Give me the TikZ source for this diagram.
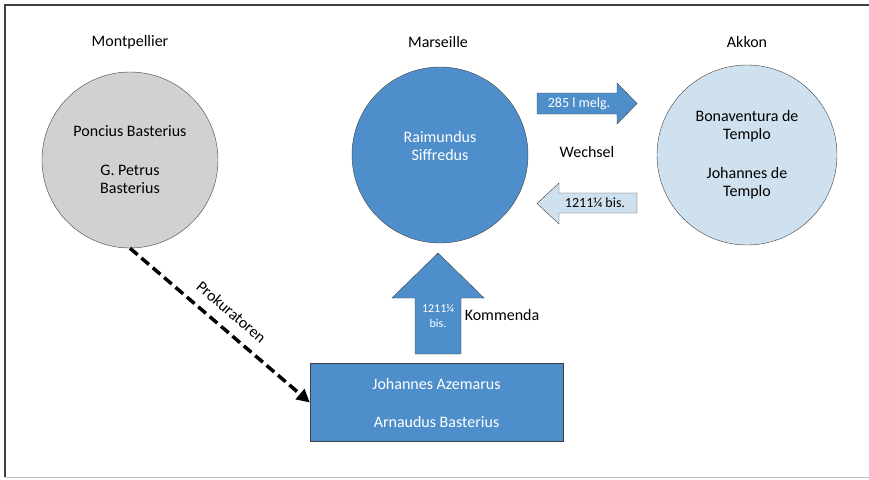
\documentclass[tikz,border=0pt]{standalone}
\usepackage{fontspec}
\setmainfont{Carlito}
\usetikzlibrary{arrows.meta}
\definecolor{boxblue}{HTML}{4E8FCB}
\definecolor{paleblue}{HTML}{CFE1EF}
\definecolor{circgray}{HTML}{D1D1D3}
\definecolor{edgegray}{HTML}{404040}

\begin{document}
\begin{tikzpicture}[x=1pt,y=-1pt]
        \tikzstyle{place}=[font=\fontsize{16}{18}\selectfont]
        \tikzstyle{party}=[draw=edgegray,thin,circle,inner sep=0pt,align=center,font=\fontsize{16}{18}\selectfont]
        \tikzstyle{blockarrow}=[draw=edgegray,thin,line join=miter]
        \tikzstyle{tag}=[font=\fontsize{14}{16}\selectfont,inner sep=1pt]

        \useasboundingbox (0,0) rectangle (869,479);
        \draw[edgegray,line width=1.3pt] (5,477) -- (5,5) -- (869,5);
        \draw[black!25,line width=0.8pt] (5,477) -- (869,477);

        \draw (130,42) node[place] (montpellier) {Montpellier};
        \draw (438,42) node[place] (marseille) {Marseille};
        \draw (747,42) node[place] (akkon) {Akkon};

        \draw (130,160) node[party,fill=circgray,minimum size=176pt] (vm) {Poncius Basterius\\[21pt]G. Petrus\\Basterius};
        \draw (440,155) node[party,fill=boxblue,text=white,minimum size=176pt] (vs) {Raimundus\\Siffredus\\~};
        \draw (747,155) node[party,fill=paleblue,minimum size=180pt] (vb) {Bonaventura de\\Templo\\[21pt]Johannes de\\Templo};
        \draw (436.5,402.5) node[draw=edgegray,thin,fill=boxblue,text=white,minimum width=253pt,minimum height=78pt,align=center,font=\fontsize{16}{18}\selectfont] (va) {Johannes Azemarus\\[20pt]Arnaudus Basterius};

        \draw[blockarrow,fill=boxblue] (537,93) -- (617,93) -- (617,83) -- (637,103.5) -- (617,124) -- (617,114) -- (537,114) -- cycle;
        \draw[blockarrow,fill=paleblue] (637,193) -- (559,193) -- (559,183) -- (537,203.5) -- (559,224) -- (559,213) -- (637,213) -- cycle;
        \draw[blockarrow,fill=boxblue] (415,354) -- (415,298) -- (392,298) -- (438,253) -- (484,298) -- (461,298) -- (461,354) -- cycle;

        \draw (579,103.5) node[tag,text=white] (melg) {285 l melg.};
        \draw (595,203) node[tag] (bis) {1211¼ bis.};
        \draw (438,315.5) node[tag,align=center,font=\fontsize{12}{15}\selectfont,text=white] (kbis) {1211¼\\bis.};
        \draw (502,315) node[place] (kommenda) {Kommenda};
        \draw (587,152) node[place] (wechsel) {Wechsel};

        \draw[line width=3.5pt,dash pattern=on 10pt off 5pt,-{Triangle[length=13pt,width=13pt]}] (vm.south) -- node[midway,sloped,above=7pt,font=\fontsize{16}{18}\selectfont] (prok) {Prokuratoren} (va.west);

    \end{tikzpicture}
\end{document}
